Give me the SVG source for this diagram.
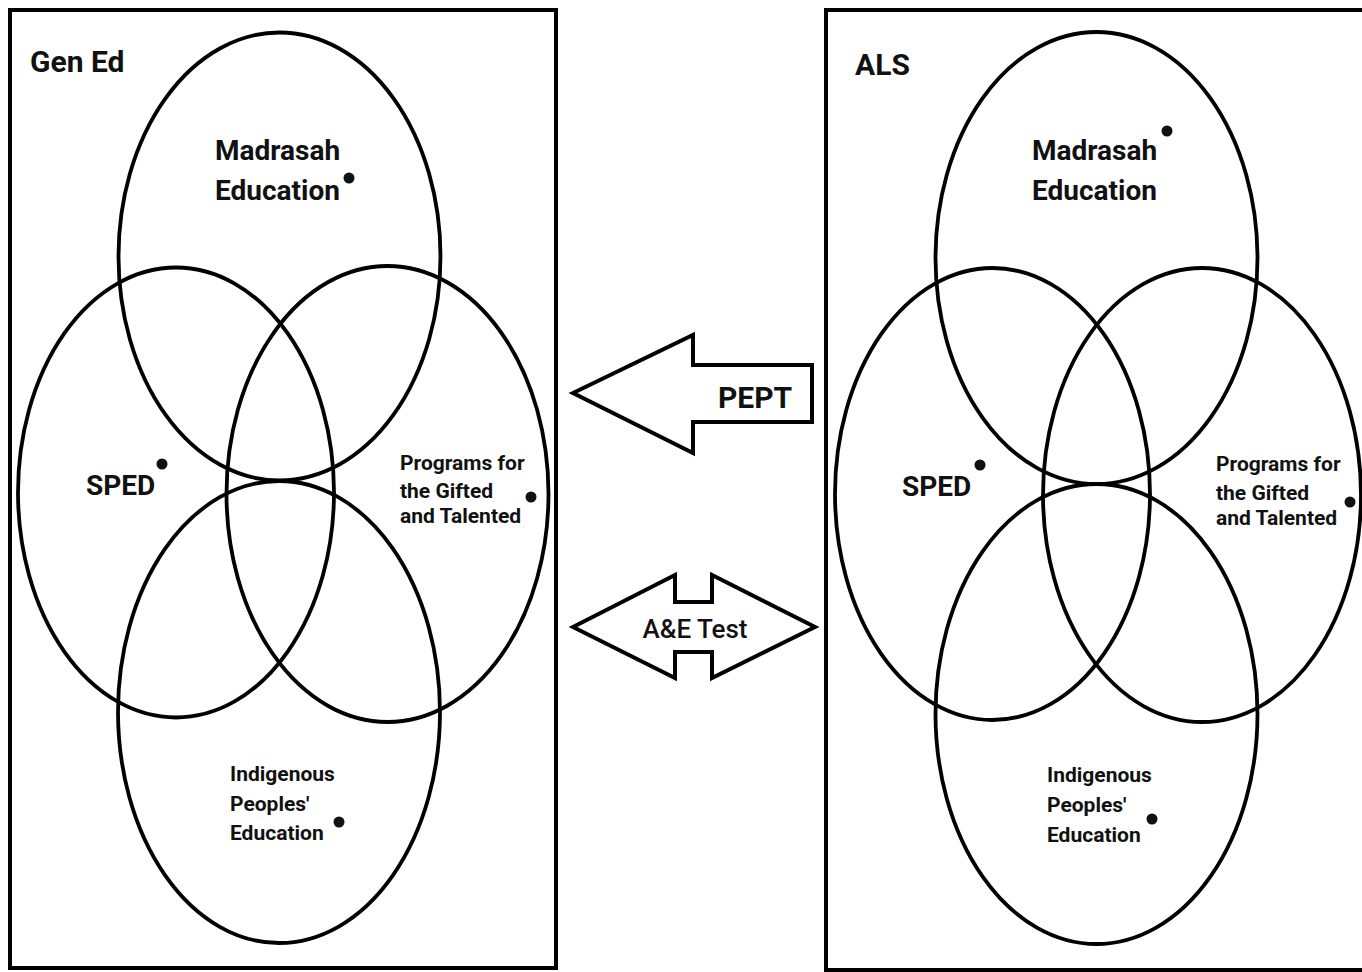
<svg xmlns="http://www.w3.org/2000/svg" width="1362" height="972" viewBox="0 0 1362 972">
<style>
.panel{fill:none;stroke:#000;stroke-width:4}
.c{fill:none;stroke:#000;stroke-width:3.8}
.t{font-family:Roboto,"Liberation Sans",sans-serif;font-weight:700;fill:#111}
.big{font-size:30px}
.mid{font-size:28px}
.sm{font-size:21px}
.dot{fill:#111}
.arrow{fill:#fff;stroke:#000;stroke-width:4;stroke-linejoin:miter}
</style>
<rect width="1362" height="972" fill="#fff"/>
<g id="genEd">
<rect class="panel" x="10" y="10" width="546" height="958"/>
<text class="t big" x="30" y="72">Gen Ed</text>
</g>
<g id="genEd-madrasah">
<ellipse class="c" cx="279.5" cy="256.5" rx="161" ry="224"/>
<text class="t mid" x="215" y="160">Madrasah</text>
<text class="t mid" x="215" y="200">Education</text>
<circle class="dot" cx="349" cy="178" r="5.5"/>
</g>
<g id="genEd-sped">
<ellipse class="c" cx="176" cy="492.5" rx="158" ry="225"/>
<text class="t mid" x="86" y="495">SPED</text>
<circle class="dot" cx="162" cy="464" r="5.5"/>
</g>
<g id="genEd-gifted">
<ellipse class="c" cx="387.5" cy="494" rx="161" ry="228"/>
<text class="t sm" x="400" y="470">Programs for</text>
<text class="t sm" x="400" y="498">the Gifted</text>
<text class="t sm" x="400" y="523">and Talented</text>
<circle class="dot" cx="531" cy="497" r="5.5"/>
</g>
<g id="genEd-ip">
<ellipse class="c" cx="279" cy="712" rx="161" ry="231"/>
<text class="t sm" x="230" y="781">Indigenous</text>
<text class="t sm" x="230" y="811">Peoples'</text>
<text class="t sm" x="230" y="840">Education</text>
<circle class="dot" cx="339" cy="822" r="5.5"/>
</g>
<g id="als">
<rect class="panel" x="826" y="10" width="560" height="960"/>
<text class="t big" x="855" y="75">ALS</text>
</g>
<g id="als-madrasah">
<ellipse class="c" cx="1096.5" cy="258" rx="161" ry="226"/>
<text class="t mid" x="1032" y="160">Madrasah</text>
<text class="t mid" x="1032" y="200">Education</text>
<circle class="dot" cx="1167" cy="131" r="5.5"/>
</g>
<g id="als-sped">
<ellipse class="c" cx="992.5" cy="494" rx="157.5" ry="226"/>
<text class="t mid" x="902" y="496">SPED</text>
<circle class="dot" cx="980" cy="465" r="5.5"/>
</g>
<g id="als-gifted">
<ellipse class="c" cx="1202" cy="495" rx="159" ry="227"/>
<text class="t sm" x="1216" y="471">Programs for</text>
<text class="t sm" x="1216" y="500">the Gifted</text>
<text class="t sm" x="1216" y="525">and Talented</text>
<circle class="dot" cx="1350" cy="502" r="5.5"/>
</g>
<g id="als-ip">
<ellipse class="c" cx="1096.5" cy="714" rx="161" ry="230"/>
<text class="t sm" x="1047" y="782">Indigenous</text>
<text class="t sm" x="1047" y="812">Peoples'</text>
<text class="t sm" x="1047" y="842">Education</text>
<circle class="dot" cx="1152" cy="819" r="5.5"/>
</g>
<g id="connectors">
<g id="pept">
<polygon class="arrow" points="573,393 693,335 693,365 812,365 812,422 693,422 693,453"/>
<text class="t" x="755" y="408" font-size="30" text-anchor="middle">PEPT</text>
</g>
<g id="ae-test">
<polygon class="arrow" points="573,627 675,575 675,602 712,602 712,575 815,627 712,678 712,652 675,652 675,678"/>
<text x="695" y="638" font-family="Roboto,'Liberation Sans',sans-serif" font-weight="500" font-size="26" fill="#111" text-anchor="middle">A&amp;E Test</text>
</g>
</g>
</svg>
